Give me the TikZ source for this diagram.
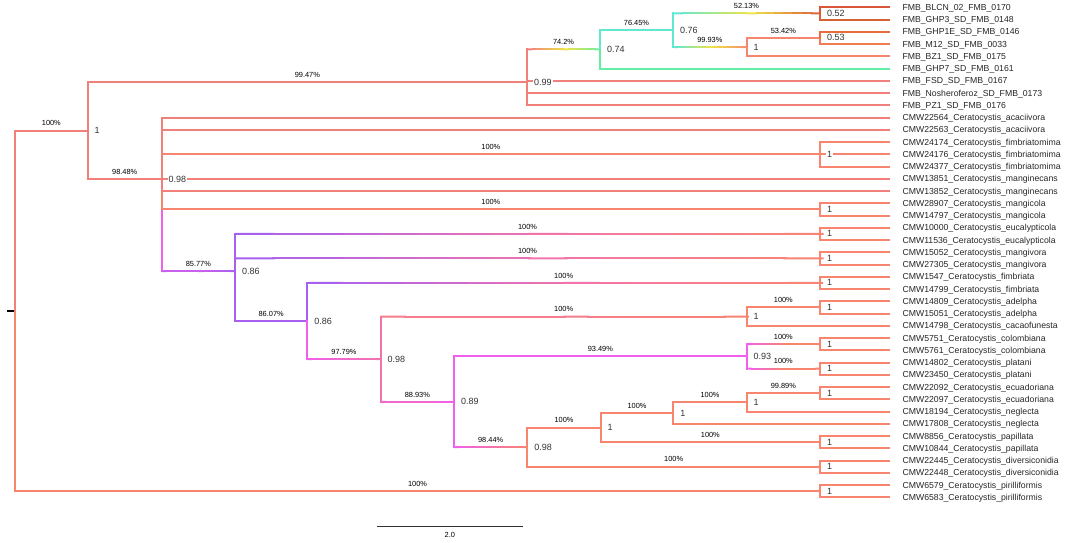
\documentclass[tikz,border=0pt]{standalone}
\usepackage{fontspec}
\setmainfont{Liberation Sans}
\usetikzlibrary{calc, positioning}
\usepackage{xcolor}

\definecolor{tcoral}{RGB}{242,128,122}
\definecolor{tsalmon}{RGB}{248,134,110}
\definecolor{tred}{RGB}{218,86,56}
\definecolor{tredb}{RGB}{212,98,52}
\definecolor{torange}{RGB}{232,108,62}
\definecolor{torangeb}{RGB}{240,124,84}
\definecolor{tcyan}{RGB}{96,232,208}
\definecolor{tmint}{RGB}{100,238,165}
\definecolor{tyellow}{RGB}{238,228,70}
\definecolor{tpurple}{RGB}{168,96,240}
\definecolor{tmagenta}{RGB}{240,96,236}
\definecolor{tpink}{RGB}{242,116,170}

% branch with a colour gradient: parent, child, left, middle, right
\newcommand{\gbranch}[5]{%
  \draw[#3, line cap=rect] (#1) -- (#1 |- #2);
  \foreach \k in {0,...,15}{
    \pgfmathtruncatemacro{\w}{100-mod(\k,8)*12.5}
    \ifnum\k<8 \colorlet{segc}{#3!\w!#4}\else\colorlet{segc}{#4!\w!#5}\fi
    \draw[segc] ($(#1 |- #2)!{\k/16}!(#2)$) -- ($(#1 |- #2)!{(\k+1.1)/16}!(#2)$);
  }
}
% bootstrap value over a branch
\newcommand{\bsup}[3]{\node[pct] (b#2) at ($(#1 |- #2)!.5!(#2)$) {#3};}

\begin{document}
\begin{tikzpicture}[x=1pt, y=-1pt, line width=2pt]
\tikzstyle{leaf name}=[anchor=base west, inner sep=0, yshift=-3.1pt, text=black!85, font=\fontsize{8.7}{10}\selectfont]
\tikzstyle{support}=[fill=white, inner sep=1pt, text=black!80, font=\fontsize{9}{10}\selectfont]
\tikzstyle{pct}=[anchor=base, inner sep=0, yshift=4.8pt, font=\fontsize{7.4}{8}\selectfont]

\useasboundingbox (0,0) rectangle (1065,543);

% internal nodes, FMB clade
\coordinate (root) at (15, 310.8);
\coordinate (rtip) at (7, 310.8);
\coordinate (nA) at (87.7, 130.5);
\coordinate (n099) at (527, 82.1);
\coordinate (n074) at (600, 49.4);
\coordinate (n076) at (673, 30.3);
\coordinate (n052) at (820, 13.4);
\coordinate (n1a) at (746.7, 47.1);
\coordinate (n053) at (820, 37.9);
% internal nodes, CMW clade
\coordinate (n098) at (161.7, 178.9);
\coordinate (nfimb) at (820, 154.3);
\coordinate (nmangc) at (820, 209.4);
\coordinate (n086) at (235, 271.1);
\coordinate (neucal) at (820, 233.9);
\coordinate (nmangv) at (820, 258.4);
\coordinate (n086b) at (307.3, 321.1);
\coordinate (nfimbr) at (820, 282.9);
\coordinate (n098c) at (380.7, 359.2);
\coordinate (nAC) at (746.7, 316.6);
\coordinate (nadel) at (820, 307.4);
\coordinate (n089) at (454, 401.8);
\coordinate (n093) at (746.7, 356.4);
\coordinate (ncol) at (820, 344.2);
\coordinate (nplat) at (820, 368.7);
\coordinate (n098d) at (527.3, 447.2);
\coordinate (n1e) at (600.7, 427.6);
\coordinate (n1f) at (673.3, 413.1);
\coordinate (n1g) at (746.7, 402.4);
\coordinate (necu) at (820, 393.2);
\coordinate (npap) at (820, 442.2);
\coordinate (ndiv) at (820, 466.7);
\coordinate (npir) at (820, 491.2);

% branches
\draw[black, line width=2pt] (rtip) -- (root);
\draw[tcoral] (root) |- (nA);
\draw[tsalmon] (root) |- (npir);
\draw[tcoral] (nA) |- (n099);
\draw[tcoral] (nA) |- (n098);
\gbranch{n099}{n074}{tcoral}{tyellow}{tmint}
\draw[tcyan] (n074) |- (n076);
\gbranch{n076}{n052}{tcyan}{tyellow}{tred}
\gbranch{n076}{n1a}{tcyan}{tyellow}{tsalmon}
\draw[tsalmon] (n1a) |- (n053);
\gbranch{n098}{n086}{tmagenta}{tmagenta!50!tpurple}{tpurple}
\draw[tsalmon] (n098) |- (nfimb);
\draw[tsalmon] (n098) |- (nmangc);
\gbranch{n086}{neucal}{tpurple}{tpink}{tsalmon}
\gbranch{n086}{nmangv}{tpurple}{tpink}{tsalmon}
\draw[tpurple] (n086) |- (n086b);
\gbranch{n086b}{nfimbr}{tpurple}{tpink}{tsalmon}
\gbranch{n086b}{n098c}{tmagenta}{tpink!50!tmagenta}{tpink}
\gbranch{n098c}{nAC}{tpink}{tpink!50!tsalmon}{tsalmon}
\draw[tsalmon] (nAC) |- (nadel);
\gbranch{n098c}{n089}{tpink}{tpink!50!tmagenta}{tmagenta}
\draw[tmagenta] (n089) |- (n093);
\gbranch{n093}{ncol}{tmagenta}{tsalmon}{tsalmon}
\gbranch{n093}{nplat}{tmagenta}{tsalmon}{tsalmon}
\gbranch{n089}{n098d}{tmagenta}{tpink}{tsalmon}
\draw[tsalmon] (n098d) |- (n1e);
\draw[tsalmon] (n098d) |- (ndiv);
\draw[tsalmon] (n1e) |- (n1f);
\draw[tsalmon] (n1e) |- (npap);
\draw[tsalmon] (n1f) |- (n1g);
\draw[tsalmon] (n1g) |- (necu);

% leaves
\foreach \i/\p/\col/\txt in {
  0/n052/tred/FMB\_BLCN\_02\_FMB\_0170,
  1/n052/tredb/FMB\_GHP3\_SD\_FMB\_0148,
  2/n053/torange/FMB\_GHP1E\_SD\_FMB\_0146,
  3/n053/torangeb/FMB\_M12\_SD\_FMB\_0033,
  4/n1a/tsalmon/FMB\_BZ1\_SD\_FMB\_0175,
  5/n074/tmint/FMB\_GHP7\_SD\_FMB\_0161,
  6/n099/tcoral/FMB\_FSD\_SD\_FMB\_0167,
  7/n099/tcoral/FMB\_Nosheroferoz\_SD\_FMB\_0173,
  8/n099/tcoral/FMB\_PZ1\_SD\_FMB\_0176,
  9/n098/tcoral/CMW22564\_Ceratocystis\_acaciivora,
  10/n098/tcoral/CMW22563\_Ceratocystis\_acaciivora,
  11/nfimb/tsalmon/CMW24174\_Ceratocystis\_fimbriatomima,
  12/nfimb/tsalmon/CMW24176\_Ceratocystis\_fimbriatomima,
  13/nfimb/tsalmon/CMW24377\_Ceratocystis\_fimbriatomima,
  14/n098/tcoral/CMW13851\_Ceratocystis\_manginecans,
  15/n098/tcoral/CMW13852\_Ceratocystis\_manginecans,
  16/nmangc/tsalmon/CMW28907\_Ceratocystis\_mangicola,
  17/nmangc/tsalmon/CMW14797\_Ceratocystis\_mangicola,
  18/neucal/tsalmon/CMW10000\_Ceratocystis\_eucalypticola,
  19/neucal/tsalmon/CMW11536\_Ceratocystis\_eucalypticola,
  20/nmangv/tsalmon/CMW15052\_Ceratocystis\_mangivora,
  21/nmangv/tsalmon/CMW27305\_Ceratocystis\_mangivora,
  22/nfimbr/tsalmon/CMW1547\_Ceratocystis\_fimbriata,
  23/nfimbr/tsalmon/CMW14799\_Ceratocystis\_fimbriata,
  24/nadel/tsalmon/CMW14809\_Ceratocystis\_adelpha,
  25/nadel/tsalmon/CMW15051\_Ceratocystis\_adelpha,
  26/nAC/tsalmon/CMW14798\_Ceratocystis\_cacaofunesta,
  27/ncol/tsalmon/CMW5751\_Ceratocystis\_colombiana,
  28/ncol/tsalmon/CMW5761\_Ceratocystis\_colombiana,
  29/nplat/tsalmon/CMW14802\_Ceratocystis\_platani,
  30/nplat/tsalmon/CMW23450\_Ceratocystis\_platani,
  31/necu/tsalmon/CMW22092\_Ceratocystis\_ecuadoriana,
  32/necu/tsalmon/CMW22097\_Ceratocystis\_ecuadoriana,
  33/n1g/tsalmon/CMW18194\_Ceratocystis\_neglecta,
  34/n1f/tsalmon/CMW17808\_Ceratocystis\_neglecta,
  35/npap/tsalmon/CMW8856\_Ceratocystis\_papillata,
  36/npap/tsalmon/CMW10844\_Ceratocystis\_papillata,
  37/ndiv/tsalmon/CMW22445\_Ceratocystis\_diversiconidia,
  38/ndiv/tsalmon/CMW22448\_Ceratocystis\_diversiconidia,
  39/npir/tsalmon/CMW6579\_Ceratocystis\_pirilliformis,
  40/npir/tsalmon/CMW6583\_Ceratocystis\_pirilliformis}{
  \coordinate (l\i) at (890, {7.3+12.25*\i});
  \draw[\col] (\p) |- (l\i);
  \node[leaf name] (t\i) at (901.5, {7.3+12.25*\i}) {\txt};
}

% posterior values
\node[support, right=5pt of nA] (snA) {1};
\node[support, right=5pt of n099] (s099) {0.99};
\node[support, right=5pt of n074] (s074) {0.74};
\node[support, right=5pt of n076] (s076) {0.76};
\node[support, right=5pt of n1a] (s1a) {1};
\node[support, right=5pt of n052] (s052) {0.52};
\node[support, right=5pt of n053] (s053) {0.53};
\node[support, right=5pt of n098] (s098) {0.98};
\node[support, right=5pt of nfimb] (sfimb) {1};
\node[support, right=5pt of nmangc] (smangc) {1};
\node[support, right=5pt of n086] (s086) {0.86};
\node[support, right=5pt of neucal] (seucal) {1};
\node[support, right=5pt of nmangv] (smangv) {1};
\node[support, right=5pt of n086b] (s086b) {0.86};
\node[support, right=5pt of nfimbr] (sfimbr) {1};
\node[support, right=5pt of n098c] (s098c) {0.98};
\node[support, right=5pt of nAC] (sAC) {1};
\node[support, right=5pt of nadel] (sadel) {1};
\node[support, right=5pt of n089] (s089) {0.89};
\node[support, right=5pt of n093] (s093) {0.93};
\node[support, right=5pt of ncol] (scol) {1};
\node[support, right=5pt of nplat] (splat) {1};
\node[support, right=5pt of n098d] (s098d) {0.98};
\node[support, right=5pt of n1e] (s1e) {1};
\node[support, right=5pt of n1f] (s1f) {1};
\node[support, right=5pt of n1g] (s1g) {1};
\node[support, right=5pt of necu] (secu) {1};
\node[support, right=5pt of npap] (spap) {1};
\node[support, right=5pt of ndiv] (sdiv) {1};
\node[support, right=5pt of npir] (spir) {1};

% bootstrap values
\bsup{root}{nA}{100\%}
\bsup{nA}{n099}{99.47\%}
\bsup{nA}{n098}{98.48\%}
\bsup{n099}{n074}{74.2\%}
\bsup{n074}{n076}{76.45\%}
\bsup{n076}{n052}{52.13\%}
\bsup{n076}{n1a}{99.93\%}
\bsup{n1a}{n053}{53.42\%}
\bsup{n098}{nfimb}{100\%}
\bsup{n098}{nmangc}{100\%}
\bsup{n098}{n086}{85.77\%}
\bsup{n086}{neucal}{100\%}
\bsup{n086}{nmangv}{100\%}
\bsup{n086}{n086b}{86.07\%}
\bsup{n086b}{nfimbr}{100\%}
\bsup{n086b}{n098c}{97.79\%}
\bsup{n098c}{nAC}{100\%}
\bsup{nAC}{nadel}{100\%}
\bsup{n098c}{n089}{88.93\%}
\bsup{n089}{n093}{93.49\%}
\bsup{n093}{ncol}{100\%}
\bsup{n093}{nplat}{100\%}
\bsup{n089}{n098d}{98.44\%}
\bsup{n098d}{n1e}{100\%}
\bsup{n098d}{ndiv}{100\%}
\bsup{n1e}{n1f}{100\%}
\bsup{n1e}{npap}{100\%}
\bsup{n1f}{n1g}{100\%}
\bsup{n1g}{necu}{99.89\%}
\bsup{root}{npir}{100\%}

% scale bar
\coordinate (sb1) at (376.7, 526);
\coordinate (sb2) at (523, 526);
\draw[black!80, line width=0.9pt] (sb1) -- (sb2);
\node[anchor=base, inner sep=0, yshift=-11.5pt, font=\fontsize{7.4}{8}\selectfont] (sblab) at ($(sb1)!.5!(sb2)$) {2.0};
\end{tikzpicture}
\end{document}
